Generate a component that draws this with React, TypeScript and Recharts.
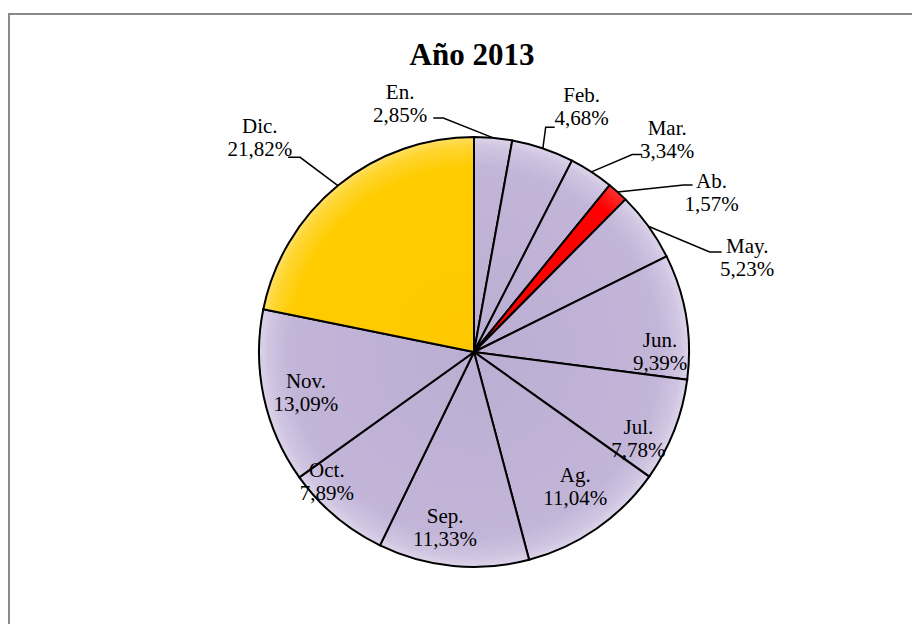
import React from 'react';
import {PieChart, Pie, Cell} from 'recharts';

// months and shares (%)
const months = ['En.', 'Feb.', 'Mar.', 'Ab.', 'May.', 'Jun.', 'Jul.', 'Ag.', 'Sep.', 'Oct.', 'Nov.', 'Dic.'];
const shares = [2.85, 4.68, 3.34, 1.57, 5.23, 9.39, 7.78, 11.04, 11.33, 7.89, 13.09, 21.82];
const sliceColors = ['lav', 'lav', 'lav', 'red', 'lav', 'lav', 'lav', 'lav', 'lav', 'lav', 'lav', 'yel'];

const data = months.map((m, i) => ({name: m, value: shares[i]}));

// label placement: angle offset from slice middle (deg, clockwise) and radius in px
// outside labels also get a leader elbow + a short horizontal stub
type LabelPos = {da: number, r: number, elbow?: {da: number, r: number, stub: number}};
const labelPos: Record<string, LabelPos> = {
    'En.': {da: -21.7, r: 259, elbow: {da: -12.6, r: 236, stub: -10}},
    'Feb.': {da: 5.0, r: 268, elbow: {da: -1.0, r: 236, stub: 9}},
    'Mar.': {da: 9.2, r: 287, elbow: {da: 5.6, r: 253, stub: 10}},
    'Ab.': {da: 14.2, r: 286, elbow: {da: 9.5, r: 268, stub: 9}},
    'May.': {da: 16.8, r: 289, elbow: {da: 12.8, r: 256, stub: 12}},
    'Jun.': {da: 9.5, r: 186},
    'Jul.': {da: 6.5, r: 186},
    'Ag.': {da: -2.1, r: 169},
    'Sep.': {da: 3.8, r: 178},
    'Oct.': {da: 8.5, r: 196},
    'Nov.': {da: -1.6, r: 173},
    'Dic.': {da: -5.7, r: 303, elbow: {da: -2.5, r: 261, stub: -12}},
};

const FONT = '"Liberation Serif", "Times New Roman", serif';
const CX = 464;
const CY = 337;
const R = 215;

const polar = (cx: number, cy: number, angCw: number, r: number) => {
    const rad = angCw * Math.PI / 180;
    return {x: cx + r * Math.sin(rad), y: cy - r * Math.cos(rad)};
};

const renderLabel = (props: any) => {
    const {cx, cy, midAngle, outerRadius, name, value} = props;
    const mid = 90 - midAngle; // clockwise from 12 o'clock
    const pos = labelPos[name];
    const c = polar(cx, cy, mid + pos.da, pos.r);
    const pct = value.toFixed(2).replace('.', ',') + '%';
    let leader = null;
    if (pos.elbow) {
        const s = polar(cx, cy, mid, outerRadius);
        const e = polar(cx, cy, mid + pos.elbow.da, pos.elbow.r);
        leader = (
            <polyline
                points={`${s.x},${s.y} ${e.x},${e.y} ${e.x + pos.elbow.stub},${e.y}`}
                fill='none'
                stroke='#000'
                strokeWidth={1.5}
            />
        );
    }
    return (
        <g key={name}>
            {leader}
            <text x={c.x} y={c.y} textAnchor='middle' fontFamily={FONT} fontSize={21} fill='#000'>
                <tspan x={c.x} dy={-5}>{name}</tspan>
                <tspan x={c.x} dy={23}>{pct}</tspan>
            </text>
        </g>
    );
};

// soft rim highlight, roughly like the bevel in the original
const Gradients = () => (
    <svg width={0} height={0} style={{position: 'absolute'}}>
        <defs>
            <radialGradient id='lav' gradientUnits='userSpaceOnUse' cx={CX} cy={CY} r={R}>
                <stop offset='0%' stopColor='#bcadd3' />
                <stop offset='86%' stopColor='#c3b5d8' />
                <stop offset='96%' stopColor='#d0c6e2' />
                <stop offset='100%' stopColor='#ddd5ea' />
            </radialGradient>
            <radialGradient id='yel' gradientUnits='userSpaceOnUse' cx={CX} cy={CY} r={R}>
                <stop offset='0%' stopColor='#ffc800' />
                <stop offset='86%' stopColor='#ffcc00' />
                <stop offset='96%' stopColor='#ffd633' />
                <stop offset='100%' stopColor='#ffe066' />
            </radialGradient>
            <radialGradient id='red' gradientUnits='userSpaceOnUse' cx={CX} cy={CY} r={R}>
                <stop offset='0%' stopColor='#ff0000' />
                <stop offset='90%' stopColor='#ff0000' />
                <stop offset='100%' stopColor='#ff3030' />
            </radialGradient>
        </defs>
    </svg>
);

export default function App() {
    return (
        <div style={{position: 'relative', width: 910, height: 609, marginTop: 5, borderTop: '2px solid #8a8a8a', borderLeft: '2px solid #8a8a8a'}}>
            <Gradients />
            <div style={{position: 'absolute', left: 462, top: 24, transform: 'translateX(-50%)', fontFamily: FONT, fontWeight: 'bold', fontSize: 31, lineHeight: '31px', whiteSpace: 'nowrap'}}>
                Año 2013
            </div>
            <PieChart width={910} height={609} margin={{top: 0, right: 0, bottom: 0, left: 0}}>
                <Pie
                    data={data}
                    dataKey='value'
                    nameKey='name'
                    cx={CX}
                    cy={CY}
                    outerRadius={R}
                    startAngle={90}
                    endAngle={-270}
                    stroke='#000'
                    strokeWidth={2}
                    label={renderLabel}
                    labelLine={false}
                    isAnimationActive={false}
                >
                    {data.map((d, i) => (
                        <Cell key={d.name} fill={`url(#${sliceColors[i]})`} />
                    ))}
                </Pie>
            </PieChart>
        </div>
    );
}
